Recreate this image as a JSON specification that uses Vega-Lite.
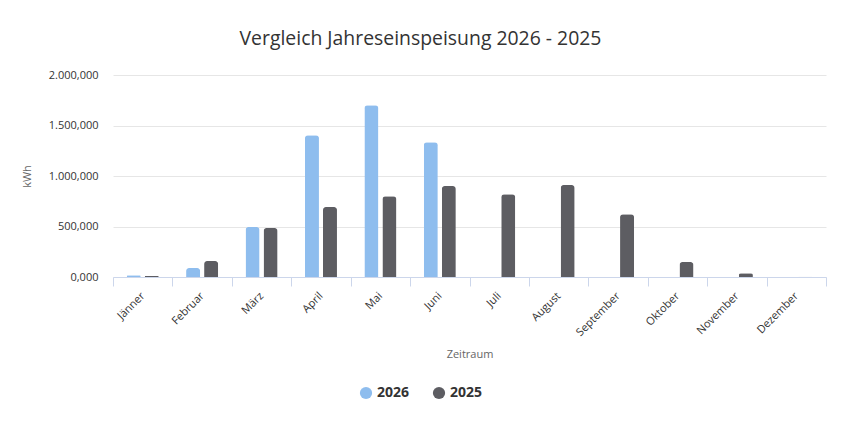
{
  "$schema": "https://vega.github.io/schema/vega-lite/v6.json",
  "background": "white",
  "autosize": "none",
  "padding": {"left": 113, "top": 75, "right": 22, "bottom": 162},
  "width": 713,
  "height": 202,
  "title": {
    "text": "Vergleich Jahreseinspeisung 2026 - 2025",
    "font": "Open Sans",
    "fontSize": 19.4,
    "fontWeight": "normal",
    "color": "#333333",
    "anchor": "middle",
    "dx": -49,
    "offset": 20
  },
  "data": {
    "values": [
      {"Monat": "Jänner", "Jahr": "2026", "kWh": 18000},
      {"Monat": "Jänner", "Jahr": "2025", "kWh": 10000},
      {"Monat": "Februar", "Jahr": "2026", "kWh": 88000},
      {"Monat": "Februar", "Jahr": "2025", "kWh": 158000},
      {"Monat": "März", "Jahr": "2026", "kWh": 495000},
      {"Monat": "März", "Jahr": "2025", "kWh": 485000},
      {"Monat": "April", "Jahr": "2026", "kWh": 1403000},
      {"Monat": "April", "Jahr": "2025", "kWh": 692000},
      {"Monat": "Mai", "Jahr": "2026", "kWh": 1700000},
      {"Monat": "Mai", "Jahr": "2025", "kWh": 800000},
      {"Monat": "Juni", "Jahr": "2026", "kWh": 1335000},
      {"Monat": "Juni", "Jahr": "2025", "kWh": 900000},
      {"Monat": "Juli", "Jahr": "2025", "kWh": 820000},
      {"Monat": "August", "Jahr": "2025", "kWh": 910000},
      {"Monat": "September", "Jahr": "2025", "kWh": 622000},
      {"Monat": "Oktober", "Jahr": "2025", "kWh": 148000},
      {"Monat": "November", "Jahr": "2025", "kWh": 38000},
      {"Monat": "Dezember", "Jahr": "2025", "kWh": 3000}
    ]
  },
  "mark": {"type": "bar", "cornerRadiusTopLeft": 3, "cornerRadiusTopRight": 3},
  "encoding": {
    "x": {
      "field": "Monat",
      "type": "nominal",
      "sort": ["Jänner", "Februar", "März", "April", "Mai", "Juni", "Juli", "August", "September", "Oktober", "November", "Dezember"],
      "scale": {"paddingInner": 0, "paddingOuter": 0},
      "axis": {
        "title": "Zeitraum",
        "titleFont": "Open Sans",
        "titleFontSize": 11,
        "titleFontWeight": "normal",
        "titleColor": "#666666",
        "titleY": 71,
        "titleBaseline": "top",
        "tickBand": "extent",
        "tickSize": 9,
        "tickColor": "#ccd6eb",
        "domainColor": "#ccd6eb",
        "labelAngle": -45,
        "labelAlign": "right",
        "labelBaseline": "middle",
        "labelPadding": 8,
        "labelFont": "Open Sans",
        "labelFontSize": 11,
        "labelColor": "#333333",
        "grid": false
      }
    },
    "xOffset": {
      "field": "Jahr",
      "type": "nominal",
      "sort": ["2026", "2025"],
      "scale": {"paddingInner": 0.222, "paddingOuter": 0.76}
    },
    "y": {
      "field": "kWh",
      "type": "quantitative",
      "scale": {"domain": [0, 2000000]},
      "axis": {
        "title": "kWh",
        "titleFont": "Open Sans",
        "titleFontSize": 11,
        "titleFontWeight": "normal",
        "titleColor": "#666666",
        "titleX": -81,
        "titleY": 101,
        "values": [0, 500000, 1000000, 1500000, 2000000],
        "labelExpr": "replace(replace(replace(format(datum.value / 1000, ',.3f'), ',', '#'), '.', ','), '#', '.')",
        "labelFont": "Open Sans",
        "labelFontSize": 11,
        "labelColor": "#333333",
        "labelPadding": 15,
        "ticks": false,
        "domain": false,
        "gridColor": "#e6e6e6"
      }
    },
    "color": {
      "field": "Jahr",
      "type": "nominal",
      "sort": ["2026", "2025"],
      "scale": {"domain": ["2026", "2025"], "range": ["#8ebdee", "#5d5d62"]},
      "legend": {
        "title": null,
        "orient": "none",
        "direction": "horizontal",
        "legendX": 246,
        "legendY": 311,
        "symbolType": "circle",
        "symbolSize": 150,
        "symbolStrokeWidth": 0,
        "labelFont": "Open Sans",
        "labelFontSize": 14,
        "labelFontWeight": "bold",
        "labelColor": "#333333",
        "columnPadding": 22
      }
    }
  },
  "config": {"view": {"stroke": null}}
}
